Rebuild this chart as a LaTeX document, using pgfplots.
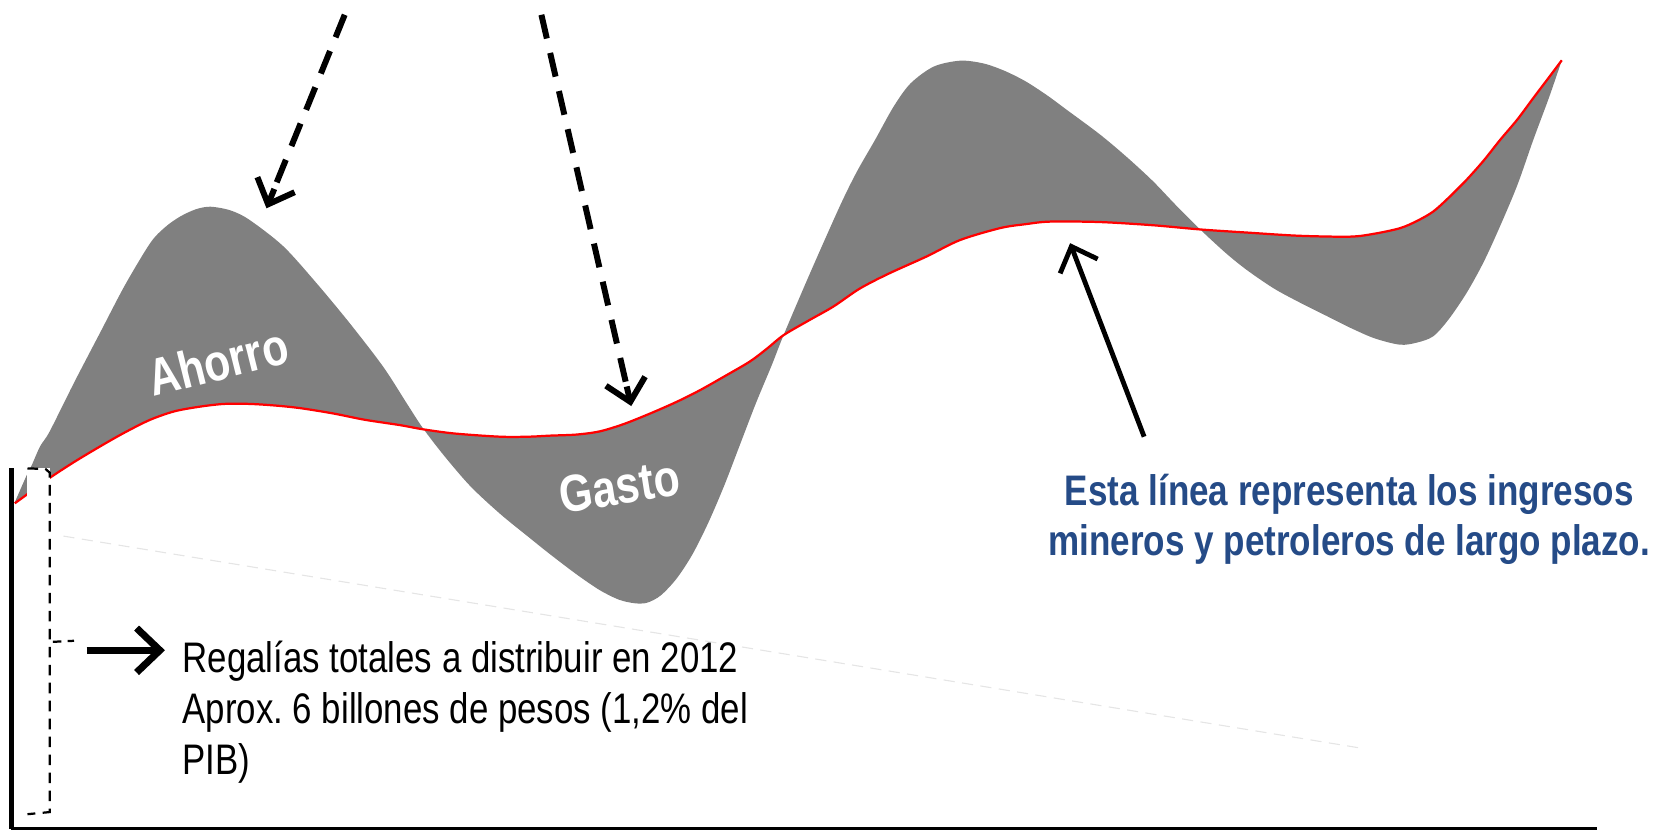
\documentclass[border=0pt]{standalone}
\usepackage{pgfplots}
\pgfplotsset{compat=1.18}
\usepackage{pgfplotstable}
\usepgfplotslibrary{fillbetween}
\usetikzlibrary{arrows.meta}
\usepackage{fontspec}
\setmainfont{Liberation Sans}
\newfontfamily\narrow{Liberation Sans}[FakeStretch=0.82]
\newfontfamily\narrowb{Liberation Sans}[FakeStretch=0.815]
\definecolor{fillgray}{RGB}{128,128,128}
\definecolor{txtblue}{RGB}{37,75,135}
\frenchspacing

% actual revenue (oscillating)
\pgfplotstableread{
x y
14 475
25 450
30 440
38 422
47 408
70 362
95 314
118 270
142 230
156 215
170 205
185 198
199 195.5
218 199
236 208
268 233
299.5 268
331 306
362.5 347
385 382
400 405
420 431
445 460
473 486
500 508
520 524
545 543
567 558
585 567
600 570.5
612 570
625 563
640 547
655 524
670 494
685 459
700 420
715 381
730 345
741 317
766 258.5
794 195.5
810 163
827.5 132.4
845 101
861 79
883 63
908 57.4
930 60
950 67
970 77
990 90
1009 104
1040 127
1065 148
1090 171
1112 194
1135 217
1160 240
1180 256
1205 273
1229 286
1255 299
1277 310
1300 320
1324 326
1340 324
1355.5 318
1370 302
1387 277
1403 248
1418.6 214
1435 175
1450 132.4
1465 92
1477 57
}\actualtab

% long-term revenue (red line)
\pgfplotstableread{
x y
14 476
25 468
47 452
70 437
95 422
118 409
142 397
165 389
189 384.6
212 382
236 382
260 383.5
284 386
315 391
345 397
378 402
400 406
430 410
473 413
500 413
520 412
545 411
567 408
590 401
615 391
640 380
662 369
685 356
709 342
725 330
741 317
765 303
788 290
813 273
840 259
876 242.7
908 227
946 215.7
970 212
993 209.6
1040 210
1090 213
1135 217
1180 220
1229 223
1277 223.8
1300 221
1324 215.8
1340 209
1355.5 200
1370 187
1387 170
1403 152
1418.6 132.4
1435 113
1450 92.8
1465 73
1477 57
}\longtab

\begin{document}
\begin{tikzpicture}
\begin{axis}[
  width=156.8mm, height=78.5mm, scale only axis,
  xmin=0, xmax=1568, ymin=0, ymax=785, y dir=reverse,
  hide axis, clip=false]

\addplot[name path=U, draw=none, smooth, tension=0.5] table {\actualtab};
\addplot[name path=L, draw=none, smooth, tension=0.5] table {\longtab};
\addplot[fill=fillgray, draw=none] fill between[of=U and L];
\addplot[red, line width=0.6pt, smooth, tension=0.5] table {\longtab};

% faint dashed guide line
\draw[black!10, line width=0.3pt, dash pattern=on 3pt off 2pt] (axis cs:60,507) -- (axis cs:1290,708);

% dashed bracket box
\fill[white] (axis cs:26,443) rectangle (axis cs:47,770);
\draw[line width=0.6pt, dash pattern=on 1mm off 0.7mm] (axis cs:26,443) -- (axis cs:43,443.5) -- (axis cs:47,447) -- (axis cs:47,768) -- (axis cs:26,770);
\draw[line width=0.6pt, dash pattern=on 0.8mm off 0.6mm] (axis cs:50,607) -- (axis cs:70,606);

% axes lines
\draw[line width=1.35pt] (axis cs:10.9,443) -- (axis cs:10.9,784);
\draw[line width=0.6pt] (axis cs:10,783.5) -- (axis cs:1510,783.5);

% dashed arrows (solid heads)
\draw[line width=1.6pt, dash pattern=on 2.3mm off 1.4mm] (axis cs:326,14) -- (axis cs:257,184);
\draw[line width=1.6pt, -{Straight Barb[length=2mm,width=3.8mm]}] (axis cs:259.4,178.7) -- (axis cs:252,197);
\draw[line width=1.6pt, dash pattern=on 2.3mm off 1.4mm] (axis cs:512,14) -- (axis cs:594,371);
\draw[line width=1.6pt, -{Straight Barb[length=2mm,width=3.8mm]}] (axis cs:592.7,365.5) -- (axis cs:597,384);

% solid arrows
\draw[line width=1.3pt, -{Straight Barb[length=2mm,width=3.8mm]}] (axis cs:1082,413) -- (axis cs:1012,230);
\draw[line width=1.9pt, -{Straight Barb[length=2.2mm,width=4.2mm]}] (axis cs:82,615) -- (axis cs:156,615);

% labels in the areas
\node[rotate=14, text=white, font=\narrow\bfseries\fontsize{14}{16}\selectfont] at (axis cs:206,342) {Ahorro};
\node[rotate=9, text=white, font=\narrow\bfseries\fontsize{14}{16}\selectfont] at (axis cs:586,460) {Gasto};

% text annotations
\node[anchor=base west, inner sep=0pt, font=\narrowb\fontsize{11.5}{13.7}\selectfont] at (axis cs:172,636) {Regalías totales a distribuir en 2012};
\node[anchor=base west, inner sep=0pt, font=\narrowb\fontsize{11.5}{13.7}\selectfont] at (axis cs:172,684) {Aprox. 6 billones de pesos (1,2\% del};
\node[anchor=base west, inner sep=0pt, font=\narrowb\fontsize{11.5}{13.7}\selectfont] at (axis cs:172,732) {PIB)};

\node[anchor=base, inner sep=0pt, text=txtblue, font=\narrow\bfseries\fontsize{11.5}{13.7}\selectfont] at (axis cs:1276,478) {Esta línea representa los ingresos};
\node[anchor=base, inner sep=0pt, text=txtblue, font=\narrow\bfseries\fontsize{11.5}{13.7}\selectfont] at (axis cs:1276,525) {mineros y petroleros de largo plazo.};
\end{axis}
\pgfresetboundingbox
\useasboundingbox (0,0) rectangle (156.8mm,78.5mm);
\end{tikzpicture}
\end{document}
